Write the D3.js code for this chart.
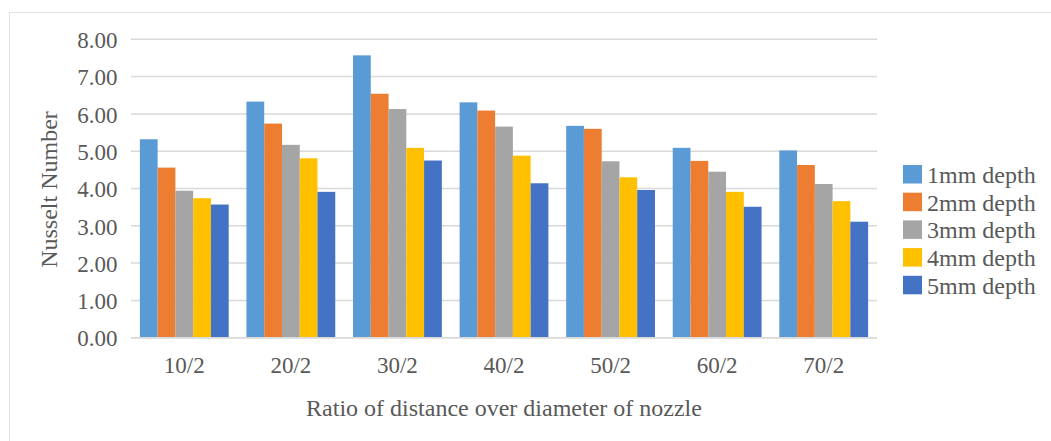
<!DOCTYPE html>
<html>
<head>
<meta charset="utf-8">
<script src="https://cdn.jsdelivr.net/npm/d3@7"></script>
<style>
  body { margin: 0; background: #fff; }
  text { font-family: "Liberation Serif", "Times New Roman", serif; fill: #595959; }
</style>
</head>
<body>
<script>
// categories and series
var categories = ["10/2", "20/2", "30/2", "40/2", "50/2", "60/2", "70/2"];
var seriesNames = ["1mm depth", "2mm depth", "3mm depth", "4mm depth", "5mm depth"];
var depth1 = [5.32, 6.33, 7.57, 6.31, 5.68, 5.09, 5.02];
var depth2 = [4.56, 5.74, 6.54, 6.09, 5.60, 4.74, 4.63];
var depth3 = [3.94, 5.17, 6.13, 5.66, 4.73, 4.45, 4.12];
var depth4 = [3.74, 4.81, 5.09, 4.88, 4.30, 3.91, 3.66];
var depth5 = [3.57, 3.91, 4.75, 4.14, 3.96, 3.51, 3.11];
var yTicks = [0, 1, 2, 3, 4, 5, 6, 7, 8];
var colors = ["#5B9BD5", "#ED7D31", "#A5A5A5", "#FFC000", "#4472C4"];

window.onload = function() {
    var w = 1051, h = 441;
    var series = [depth1, depth2, depth3, depth4, depth5];

    var svg = d3.select("body").append("svg")
        .attr("width", w)
        .attr("height", h);

    // chart area border (only top/left visible)
    svg.append("rect")
        .attr("x", 9.5).attr("y", 12.5)
        .attr("width", 1200).attr("height", 600)
        .attr("fill", "none")
        .attr("stroke", "#e3e3e3");

    var left = 131, right = 877, top = 39.3, bottom = 337.7;

    var x0 = d3.scaleBand()
        .domain(categories)
        .range([left, right])
        .paddingInner(1 / 6)
        .paddingOuter(1 / 12);

    var x1 = d3.scaleBand()
        .domain(d3.range(seriesNames.length))
        .range([0, x0.bandwidth()]);

    var y = d3.scaleLinear()
        .domain([0, 8])
        .range([bottom, top]);

    // gridlines
    svg.append("g").selectAll("line")
        .data(yTicks)
        .join("line")
        .attr("x1", left).attr("x2", right)
        .attr("y1", function(d) { return y(d); })
        .attr("y2", function(d) { return y(d); })
        .attr("stroke", "#d9d9d9")
        .attr("stroke-width", 1.5);

    // y tick labels
    svg.append("g").selectAll("text")
        .data(yTicks)
        .join("text")
        .attr("x", 117.5)
        .attr("y", function(d) { return y(d); })
        .attr("dy", "0.38em")
        .attr("text-anchor", "end")
        .style("font-size", "23px")
        .text(function(d) { return d3.format(".2f")(d); });

    // bars
    var groups = svg.append("g").selectAll("g")
        .data(categories)
        .join("g")
        .attr("transform", function(d) { return "translate(" + x0(d) + ",0)"; });

    groups.selectAll("rect")
        .data(function(d, i) { return series.map(function(s, k) { return { k: k, v: s[i] }; }); })
        .join("rect")
        .attr("x", function(d) { return x1(d.k); })
        .attr("width", x1.bandwidth())
        .attr("y", function(d) { return y(d.v); })
        .attr("height", function(d) { return y(0) - y(d.v); })
        .attr("fill", function(d) { return colors[d.k]; });

    // baseline axis
    svg.append("line")
        .attr("x1", left).attr("x2", right)
        .attr("y1", y(0)).attr("y2", y(0))
        .attr("stroke", "#d9d9d9")
        .attr("stroke-width", 1.5);

    // x tick labels
    svg.append("g").selectAll("text")
        .data(categories)
        .join("text")
        .attr("x", function(d) { return x0(d) + x0.bandwidth() / 2; })
        .attr("y", 373)
        .attr("text-anchor", "middle")
        .style("font-size", "23px")
        .text(function(d) { return d; });

    // axis titles
    svg.append("text")
        .attr("x", 504)
        .attr("y", 416)
        .attr("text-anchor", "middle")
        .style("font-size", "24px")
        .text("Ratio of distance over diameter of nozzle");

    svg.append("text")
        .attr("transform", "translate(57,189.5) rotate(-90)")
        .attr("text-anchor", "middle")
        .style("font-size", "24px")
        .text("Nusselt Number");

    // legend
    var legend = svg.append("g").selectAll("g")
        .data(seriesNames)
        .join("g")
        .attr("transform", function(d, i) { return "translate(903," + (165 + i * 27.7) + ")"; });

    legend.append("rect")
        .attr("width", 19).attr("height", 18.5)
        .attr("fill", function(d, i) { return colors[i]; });

    legend.append("text")
        .attr("x", 24)
        .attr("y", 18)
        .style("font-size", "24px")
        .text(function(d) { return d; });
};
</script>
</body>
</html>
